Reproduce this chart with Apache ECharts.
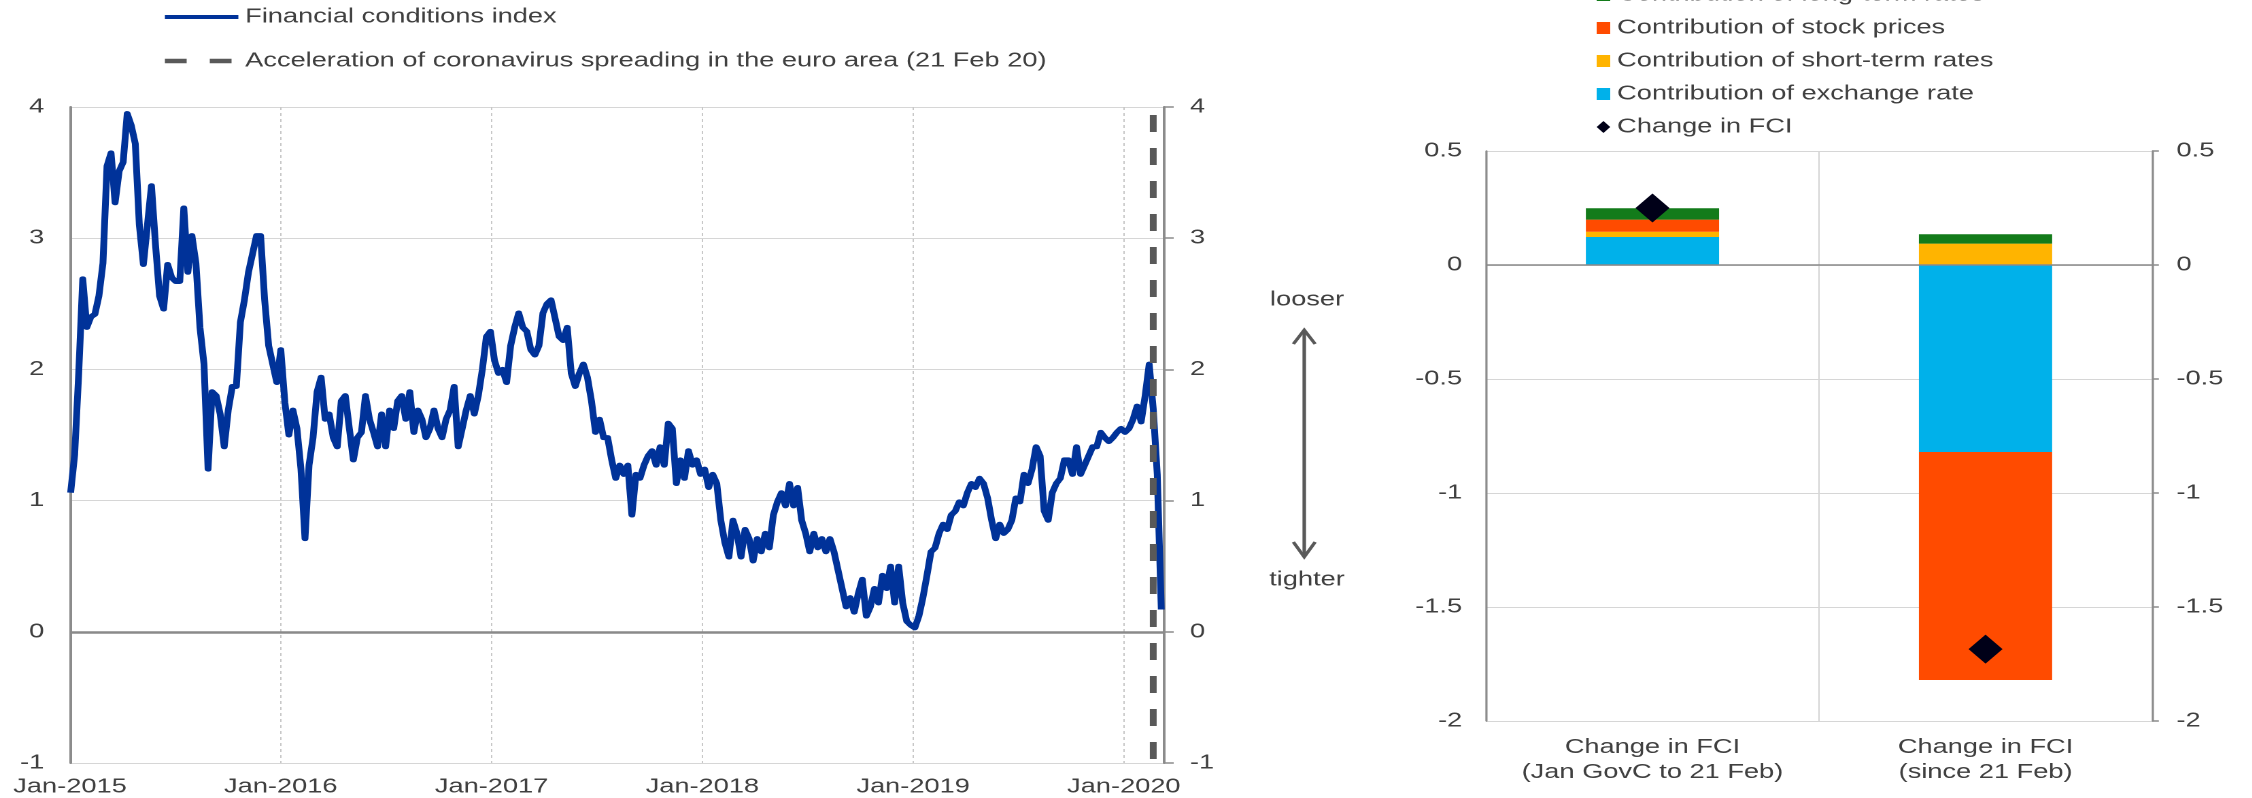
<!DOCTYPE html>
<html><head><meta charset="utf-8">
<script src="https://cdn.jsdelivr.net/npm/echarts@6/dist/echarts.min.js"></script>
<style>
html,body{margin:0;padding:0;background:#fff;overflow:hidden;}
#wrap{width:2252px;height:798px;overflow:hidden;}
#chart{width:1656px;height:798px;transform:scaleX(1.36);transform-origin:0 0;}
</style></head><body>
<div id="wrap"><div id="chart"></div></div>
<script>
// ---------- Left panel data: financial conditions index (weekly readings) ----------
const fciStart = '2015-01-02';
const fci = [
1.06,1.35,1.97,2.69,2.32,2.40,2.42,2.56,2.81,3.55,
3.65,3.27,3.51,3.58,3.95,3.86,3.72,3.10,2.80,3.10,
3.40,2.95,2.56,2.46,2.80,2.70,2.67,2.67,3.23,2.74,
3.02,2.81,2.32,2.04,1.24,1.83,1.80,1.66,1.41,1.69,
1.87,1.87,2.36,2.53,2.74,2.88,3.02,3.02,2.53,2.18,
2.04,1.90,2.15,1.75,1.50,1.69,1.55,1.24,0.71,1.27,
1.48,1.83,1.94,1.62,1.66,1.48,1.41,1.76,1.80,1.55,
1.31,1.48,1.52,1.80,1.62,1.52,1.41,1.66,1.41,1.69,
1.55,1.76,1.80,1.62,1.83,1.52,1.69,1.62,1.48,1.55,
1.69,1.55,1.48,1.62,1.69,1.87,1.41,1.55,1.69,1.80,
1.66,1.80,2.00,2.25,2.29,2.07,1.97,2.00,1.90,2.18,
2.32,2.43,2.32,2.29,2.15,2.11,2.18,2.43,2.50,2.53,
2.39,2.25,2.22,2.32,1.97,1.87,1.97,2.04,1.94,1.76,
1.52,1.62,1.48,1.48,1.31,1.17,1.27,1.20,1.27,0.89,
1.20,1.17,1.27,1.34,1.38,1.27,1.41,1.27,1.59,1.55,
1.13,1.31,1.17,1.38,1.27,1.31,1.20,1.24,1.10,1.20,
1.13,0.85,0.68,0.57,0.85,0.75,0.57,0.78,0.71,0.54,
0.71,0.61,0.75,0.64,0.89,0.99,1.06,0.96,1.13,0.96,
1.10,0.85,0.75,0.61,0.75,0.64,0.71,0.61,0.71,0.61,
0.47,0.33,0.19,0.26,0.15,0.29,0.40,0.12,0.19,0.33,
0.22,0.43,0.33,0.50,0.22,0.50,0.22,0.08,0.05,0.03,
0.12,0.26,0.43,0.61,0.64,0.75,0.82,0.78,0.89,0.92,
0.99,0.96,1.06,1.13,1.10,1.17,1.13,1.02,0.85,0.71,
0.82,0.75,0.78,0.85,1.02,0.99,1.20,1.13,1.24,1.41,
1.34,0.92,0.85,1.06,1.13,1.17,1.31,1.31,1.20,1.41,
1.20,1.27,1.34,1.41,1.41,1.52,1.48,1.45,1.48,1.52,
1.55,1.52,1.55,1.62,1.72,1.60,1.80,2.04,1.70,1.20,
0.17
];
const coronaDate = '2020-02-21';
const axisStart = '2015-01-01';
const axisEnd = '2020-03-11';
const leftYMin = -1, leftYMax = 4, leftYStep = 1;

// ---------- Right panel data: decomposition of FCI change ----------
const barCategories = ['Change in FCI\n(Jan GovC to 21 Feb)', 'Change in FCI\n(since 21 Feb)'];
const exchangeRate   = [0.123, -0.820];
const shortTermRates = [0.023,  0.094];
const stockPrices    = [0.053, -1.000];
const longTermRates  = [0.050,  0.041];
const changeInFCI    = [0.250, -1.685];
const rightYMin = -2, rightYMax = 0.5, rightYStep = 0.5;

// ---------- helpers ----------
function yearFrac(s){
  const d = Date.parse(s + 'T00:00:00Z');
  const y = new Date(d).getUTCFullYear();
  const a = Date.UTC(y,0,1), b = Date.UTC(y+1,0,1);
  return y + (d - a) / (b - a);
}
const fciDates = fci.map((_, i) => new Date(Date.parse(fciStart + 'T00:00:00Z') + i * 7 * 864e5).toISOString().slice(0,10));
const fciData = fciDates.map((d, i) => [yearFrac(d), fci[i]]);
const coronaX = yearFrac(coronaDate);

const FONT = '"Liberation Sans", Arial, sans-serif';
const TXT = '#404040';
const AXC = '#8c8c8c';
const GRID = '#d6d6d6';

const chart = echarts.init(document.getElementById('chart'), null, {renderer:'canvas', devicePixelRatio:2});

const option = {
  animation: false,
  backgroundColor: '#ffffff',
  textStyle: {fontFamily: FONT},
  grid: [
    {left: 51.5, right: 800, top: 107, bottom: 35},
    {left: 1092.6, right: 73.6, top: 151, bottom: 77}
  ],
  legend: [
    {
      orient: 'vertical', left: 119, top: 7, padding: 0,
      itemWidth: 54, itemHeight: 14, itemGap: 24, selectedMode: false,
      itemStyle: {opacity: 0},
      textStyle: {fontSize: 20, lineHeight: 20, color: TXT, fontFamily: FONT},
      data: [
        {name: 'Financial conditions index', lineStyle: {width: 4}},
        {name: 'Acceleration of coronavirus spreading in the euro area (21 Feb 20)',
         lineStyle: {width: 4.5, type: [16, 17], dashOffset: 0}}
      ]
    },
    {
      orient: 'vertical', left: 1174, top: -15, padding: 0,
      itemWidth: 10, itemHeight: 12, itemGap: 13, selectedMode: false,
      textStyle: {fontSize: 20, lineHeight: 20, color: TXT, fontFamily: FONT},
      data: [
        {name: 'Contribution of long-term rates', icon: 'rect'},
        {name: 'Contribution of stock prices', icon: 'rect'},
        {name: 'Contribution of short-term rates', icon: 'rect'},
        {name: 'Contribution of exchange rate', icon: 'rect'},
        {name: 'Change in FCI', icon: 'diamond', itemStyle: {opacity: 1}}
      ]
    }
  ],
  xAxis: [
    {
      gridIndex: 0, type: 'value', min: yearFrac(axisStart), max: yearFrac(axisEnd), interval: 1,
      axisLine: {show: false}, axisTick: {show: false},
      axisLabel: {
        margin: 14, fontSize: 20, color: TXT, fontFamily: FONT, showMaxLabel: false,
        formatter: v => (Math.abs(v - Math.round(v)) < 1e-6) ? 'Jan-' + Math.round(v) : ''
      },
      splitLine: {show: true, lineStyle: {color: '#c8c8c8', width: 1, type: [3, 3]}}
    },
    {
      gridIndex: 1, type: 'category', data: barCategories,
      axisLine: {show: false}, axisTick: {show: false},
      axisLabel: {margin: 14, interval: 0, fontSize: 20, lineHeight: 25, color: TXT, fontFamily: FONT},
      splitLine: {show: true, lineStyle: {color: GRID, width: 1}}
    }
  ],
  yAxis: [
    {
      gridIndex: 0, type: 'value', position: 'left', min: leftYMin, max: leftYMax, interval: leftYStep,
      axisLine: {show: true, lineStyle: {color: AXC, width: 2}}, axisTick: {show: false},
      axisLabel: {margin: 19, fontSize: 20, color: TXT, fontFamily: FONT},
      splitLine: {show: true, lineStyle: {color: GRID, width: 1}}
    },
    {
      gridIndex: 0, type: 'value', position: 'right', min: leftYMin, max: leftYMax, interval: leftYStep,
      axisLine: {show: true, lineStyle: {color: AXC, width: 2}},
      axisTick: {show: true, length: 7, lineStyle: {color: AXC, width: 1.5}},
      axisLabel: {margin: 19, fontSize: 20, color: TXT, fontFamily: FONT},
      splitLine: {show: false}
    },
    {
      gridIndex: 1, type: 'value', position: 'left', min: rightYMin, max: rightYMax, interval: rightYStep,
      axisLine: {show: true, lineStyle: {color: AXC, width: 1.5}}, axisTick: {show: false},
      axisLabel: {margin: 17.5, fontSize: 20, color: TXT, fontFamily: FONT},
      splitLine: {show: true, lineStyle: {color: GRID, width: 1}}
    },
    {
      gridIndex: 1, type: 'value', position: 'right', min: rightYMin, max: rightYMax, interval: rightYStep,
      axisLine: {show: true, lineStyle: {color: AXC, width: 1.5}},
      axisTick: {show: true, length: 5, lineStyle: {color: AXC, width: 1.5}},
      axisLabel: {margin: 18, fontSize: 20, color: TXT, fontFamily: FONT},
      splitLine: {show: false}
    }
  ],
  series: [
    {
      name: 'Financial conditions index', type: 'line', xAxisIndex: 0, yAxisIndex: 0,
      data: fciData, symbol: 'none', z: 4,
      lineStyle: {color: '#003299', width: 5, join: 'round'},
      itemStyle: {color: '#003299'},
      markLine: {
        silent: true, symbol: ['none','none'], label: {show: false},
        lineStyle: {color: '#8a8a8a', width: 2.5, type: 'solid'},
        data: [{yAxis: 0}], z: 1
      }
    },
    {
      name: 'Acceleration of coronavirus spreading in the euro area (21 Feb 20)', type: 'line',
      xAxisIndex: 0, yAxisIndex: 0, symbol: 'none', z: 5,
      data: [[coronaX, leftYMax], [coronaX, leftYMin]],
      lineStyle: {color: '#595959', width: 5, type: [17, 16], dashOffset: 25},
      itemStyle: {color: '#595959'}
    },
    {
      name: 'Contribution of exchange rate', type: 'bar', stack: 'fci', xAxisIndex: 1, yAxisIndex: 2,
      data: exchangeRate, barWidth: '40%', itemStyle: {color: '#00b1ea'},
      markLine: {
        silent: true, symbol: ['none','none'], label: {show: false},
        lineStyle: {color: '#8a8a8a', width: 1.5, type: 'solid'},
        data: [{yAxis: 0}]
      }
    },
    {
      name: 'Contribution of short-term rates', type: 'bar', stack: 'fci', xAxisIndex: 1, yAxisIndex: 2,
      data: shortTermRates, barWidth: '40%', itemStyle: {color: '#ffb400'}
    },
    {
      name: 'Contribution of stock prices', type: 'bar', stack: 'fci', xAxisIndex: 1, yAxisIndex: 2,
      data: stockPrices, barWidth: '40%', itemStyle: {color: '#ff4b00'}
    },
    {
      name: 'Contribution of long-term rates', type: 'bar', stack: 'fci', xAxisIndex: 1, yAxisIndex: 2,
      data: longTermRates, barWidth: '40%', itemStyle: {color: '#137b1a'}
    },
    {
      name: 'Change in FCI', type: 'scatter', xAxisIndex: 1, yAxisIndex: 2,
      data: changeInFCI, symbol: 'diamond', symbolSize: [25, 29], z: 6,
      itemStyle: {color: '#000018', opacity: 1}
    }
  ],
  graphic: [
    {type: 'text', x: 961, y: 300, silent: true,
     style: {text: 'looser', fill: TXT, font: '20px ' + FONT, textAlign: 'center', textVerticalAlign: 'middle'}},
    {type: 'text', x: 961, y: 580, silent: true,
     style: {text: 'tighter', fill: TXT, font: '20px ' + FONT, textAlign: 'center', textVerticalAlign: 'middle'}},
    {type: 'line', silent: true, shape: {x1: 959, y1: 331, x2: 959, y2: 556},
     style: {stroke: '#595959', lineWidth: 2.6}},
    {type: 'polyline', silent: true, shape: {points: [[951, 344], [959, 330], [967, 344]]},
     style: {stroke: '#595959', lineWidth: 2.6, fill: null}},
    {type: 'polyline', silent: true, shape: {points: [[951, 542], [959, 557], [967, 542]]},
     style: {stroke: '#595959', lineWidth: 2.6, fill: null}}
  ]
};
chart.setOption(option);
</script>
</body></html>
